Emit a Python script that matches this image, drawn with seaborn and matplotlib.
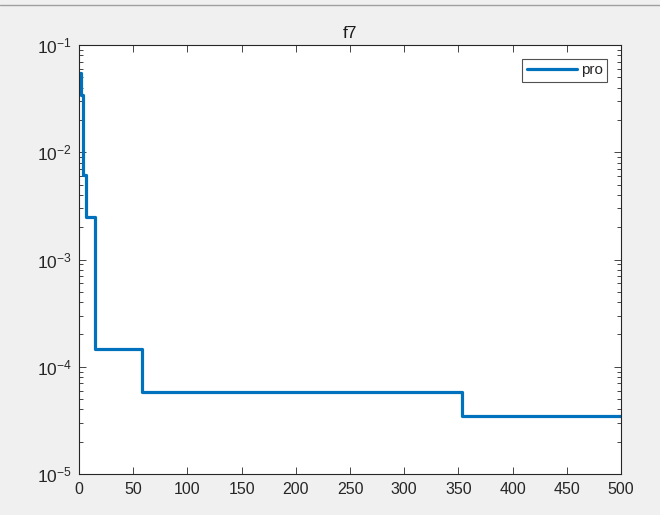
import numpy as np
import matplotlib
matplotlib.use("Agg")
import matplotlib.pyplot as plt
import seaborn as sns
from matplotlib.lines import Line2D
from matplotlib.ticker import LogLocator, NullFormatter

# change points of the convergence curve (iteration, best value)
iters = [0, 2, 4, 6, 15, 58, 353, 500]
best = [0.0545, 0.034, 0.0061, 0.00247, 1.47e-4, 5.78e-5, 3.5e-5, 3.5e-5]
series_name = "pro"
title = "f7"

sns.set_style("ticks")
plt.rcParams["font.family"] = ["Liberation Sans", "DejaVu Sans"]
plt.rcParams["mathtext.fontset"] = "custom"
plt.rcParams["mathtext.rm"] = "Liberation Sans"
plt.rcParams["mathtext.it"] = "Liberation Sans"

fig = plt.figure(figsize=(6.6, 5.15), dpi=100, facecolor="#f0f0f0")
ax = fig.add_axes([79 / 660, 41 / 515, 542 / 660, 429 / 515])
ax.set_facecolor("white")

sns.lineplot(x=iters, y=best, ax=ax, color="#0072BD", linewidth=2.3,
             drawstyle="steps-post", label=series_name)

ax.set_yscale("log")
ax.set_xlim(0, 500)
ax.set_ylim(1e-5, 1e-1)
ax.set_xticks(np.arange(0, 501, 50))
ax.yaxis.set_major_locator(LogLocator(base=10, numticks=10))
ax.yaxis.set_minor_locator(LogLocator(base=10, subs=np.arange(2, 10), numticks=20))
ax.yaxis.set_minor_formatter(NullFormatter())

for s in ax.spines.values():
    s.set_color("#262626")
    s.set_linewidth(0.8)
ax.tick_params(which="both", direction="in", top=True, right=True,
               colors="#262626", labelcolor="#262626", width=0.6)
ax.tick_params(which="major", length=5)
ax.tick_params(which="minor", length=3)
ax.tick_params(axis="x", pad=6, labelsize=11.5)
ax.tick_params(axis="y", pad=5, labelsize=12.5)

ax.set_title(title, fontsize=12.5, color="#1a1a1a", pad=5)

leg = ax.legend(loc="upper right", fontsize=11, frameon=True, fancybox=False,
                handlelength=3.3, borderpad=0.3, handletextpad=0.25,
                borderaxespad=0.9)
leg.get_frame().set_edgecolor("#262626")
leg.get_frame().set_linewidth(0.8)

# window toolbar edge at the very top
fig.add_artist(Line2D([0, 1], [1 - 4.5 / 515, 1 - 4.5 / 515], color="#a0a0a0", linewidth=1))

fig.savefig("out.png", dpi=100, facecolor=fig.get_facecolor())
